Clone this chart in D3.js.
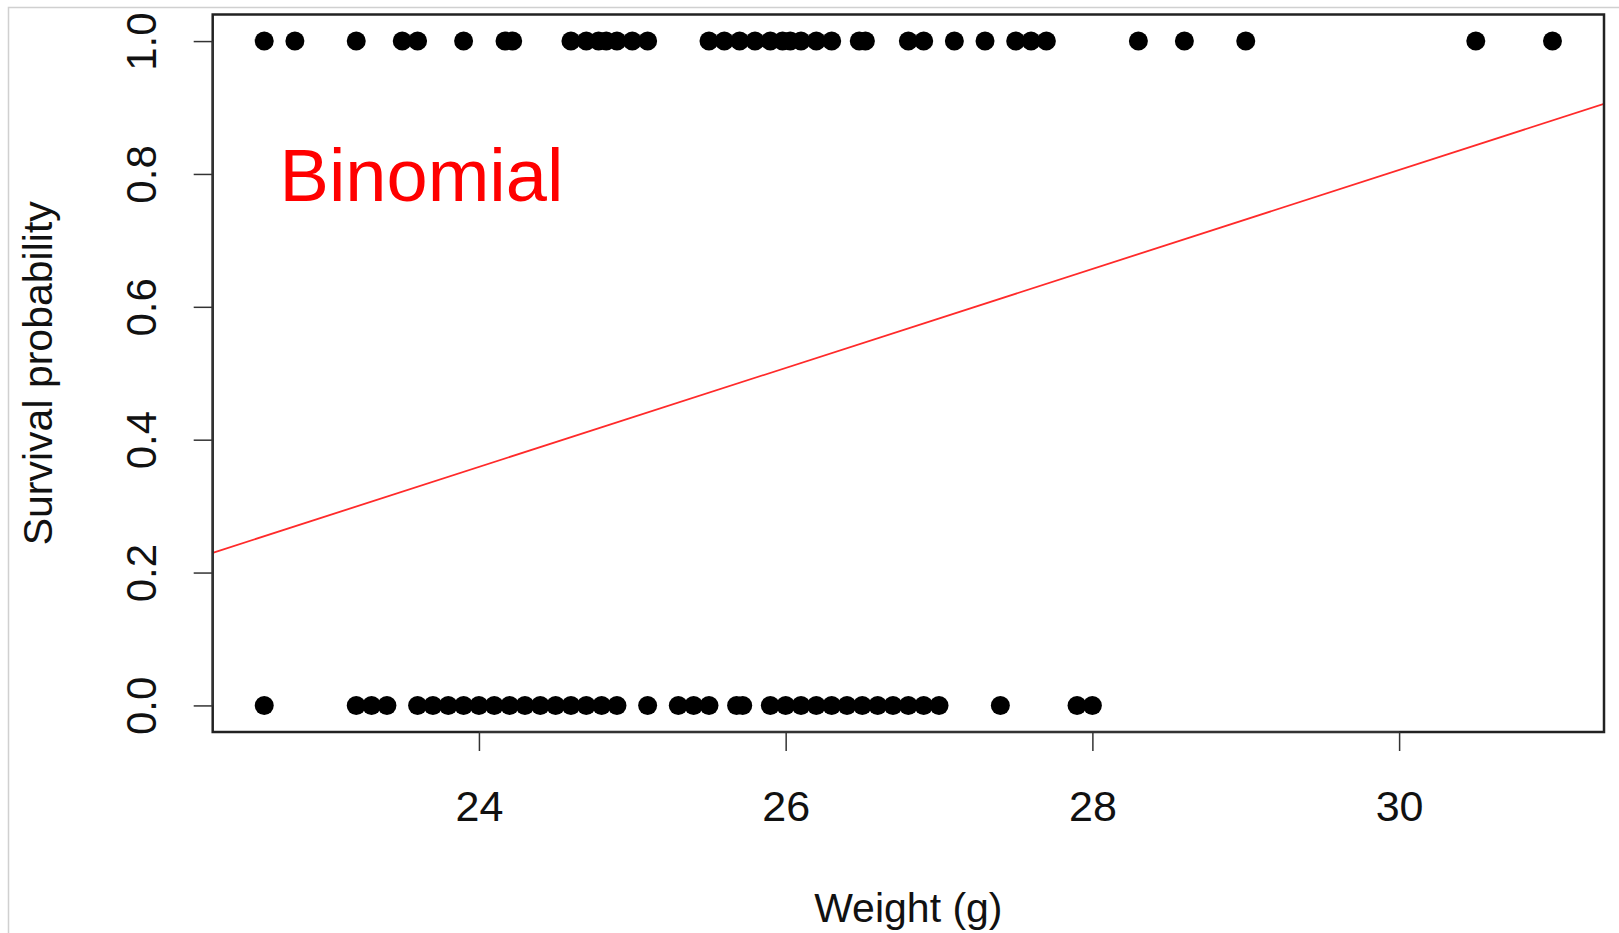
<!DOCTYPE html>
<html>
<head>
<meta charset="utf-8">
<script src="https://cdn.jsdelivr.net/npm/d3@7"></script>
<style>
    body { margin: 0; background: white; }
    text { font-family: "Liberation Sans", Arial, Helvetica, sans-serif; }
</style>
</head>
<body>
<svg id="chart"></svg>
<script>
// weights of the animals that survived (y = 1)
const survivedWeights = [
    22.6, 22.8, 23.2, 23.5, 23.6, 23.9, 24.17, 24.22, 24.6, 24.7, 24.78, 24.83, 24.9,
    25.0, 25.1, 25.5, 25.6, 25.7, 25.8, 25.9, 25.98, 26.03, 26.1, 26.2, 26.3, 26.48,
    26.52, 26.8, 26.9, 27.1, 27.3, 27.5, 27.6, 27.7, 28.3, 28.6, 29.0, 30.5, 31.0
];

// weights of the animals that died (y = 0)
const diedWeights = [
    22.6, 23.2, 23.3, 23.4, 23.6, 23.7, 23.8, 23.9, 24.0, 24.1, 24.2, 24.3, 24.4,
    24.5, 24.6, 24.7, 24.8, 24.9, 25.1, 25.3, 25.4, 25.5, 25.68, 25.72, 25.9, 26.0,
    26.1, 26.2, 26.3, 26.4, 26.5, 26.6, 26.7, 26.8, 26.9, 27.0, 27.4, 27.9, 28.0
];

// fitted line: probability = intercept + slope * weight
const fitIntercept = -1.429;
const fitSlope = 0.0745;

// tick labels
const xTicks = [24, 26, 28, 30];
const yTicks = [0.0, 0.2, 0.4, 0.6, 0.8, 1.0];

// annotation
const label = { text: "Binomial", x: 22.70, y: 0.759 };

const width = 1619, height = 933;
const box = { left: 212.7, right: 1604, top: 14.5, bottom: 732 };

let svg = d3.select("#chart")
    .attr("width", width)
    .attr("height", height);

// points as {x, y}
let points = survivedWeights.map(w => ({ x: w, y: 1 }))
    .concat(diedWeights.map(w => ({ x: w, y: 0 })));

// R style axis ranges, padded by 4%
let xExt = d3.extent(points, d => d.x);
let xPad = (xExt[1] - xExt[0]) * 0.04;
let x = d3.scaleLinear()
    .domain([xExt[0] - xPad, xExt[1] + xPad])
    .range([box.left, box.right]);

let y = d3.scaleLinear()
    .domain([-0.04, 1.04])
    .range([box.bottom, box.top]);

// faint frame around the picture
svg.append("path")
    .attr("d", "M8.5," + height + "V7.5H" + width)
    .attr("fill", "none")
    .attr("stroke", "#d0d0d0")
    .attr("stroke-width", 1.5);

// clip the fitted line to the plot box
svg.append("clipPath").attr("id", "plotClip")
    .append("rect")
    .attr("x", box.left).attr("y", box.top)
    .attr("width", box.right - box.left)
    .attr("height", box.bottom - box.top);

// fitted line
let line = d3.line()
    .x(d => x(d))
    .y(d => y(fitIntercept + fitSlope * d));

svg.append("path")
    .datum(x.domain())
    .attr("d", line)
    .attr("clip-path", "url(#plotClip)")
    .attr("fill", "none")
    .attr("stroke", "#ff2a2a")
    .attr("stroke-width", 1.8);

// the data points
svg.append("g")
    .selectAll("circle")
    .data(points)
    .enter()
    .append("circle")
    .attr("cx", d => x(d.x))
    .attr("cy", d => y(d.y))
    .attr("r", 9.5)
    .attr("fill", "black");

// plot box
svg.append("rect")
    .attr("x", box.left).attr("y", box.top)
    .attr("width", box.right - box.left)
    .attr("height", box.bottom - box.top)
    .attr("fill", "none")
    .attr("stroke", "#222")
    .attr("stroke-width", 2.5);

// x axis
let xAxis = d3.axisBottom(x)
    .tickValues(xTicks)
    .tickFormat(d3.format("d"))
    .tickSize(19)
    .tickPadding(39);

let gx = svg.append("g")
    .attr("transform", "translate(0," + box.bottom + ")")
    .call(xAxis);
gx.select(".domain")
    .attr("d", "M" + x(xTicks[0]) + ",0H" + x(xTicks[xTicks.length - 1]))
    .attr("stroke", "#333")
    .attr("stroke-width", 2);
gx.selectAll(".tick line").attr("stroke", "#333").attr("stroke-width", 1.5);
gx.selectAll(".tick text")
    .style("font-size", "43px")
    .attr("fill", "#111");

// y axis, labels rotated like R
let yAxis = d3.axisLeft(y)
    .tickValues(yTicks)
    .tickFormat(d3.format(".1f"))
    .tickSize(19);

let gy = svg.append("g")
    .attr("transform", "translate(" + box.left + ",0)")
    .call(yAxis);
gy.select(".domain")
    .attr("d", "M0," + y(yTicks[0]) + "V" + y(yTicks[yTicks.length - 1]))
    .attr("stroke", "#333")
    .attr("stroke-width", 2);
gy.selectAll(".tick line").attr("stroke", "#333").attr("stroke-width", 1.5);
gy.selectAll(".tick text")
    .attr("x", null).attr("dy", null)
    .attr("text-anchor", "middle")
    .attr("transform", "translate(-57,0) rotate(-90)")
    .style("font-size", "42px")
    .attr("fill", "#111");

// axis titles
svg.append("text")
    .attr("x", (box.left + box.right) / 2)
    .attr("y", 922)
    .attr("text-anchor", "middle")
    .style("font-size", "41px")
    .attr("fill", "#111")
    .text("Weight (g)");

svg.append("text")
    .attr("transform", "translate(52," + (box.top + box.bottom) / 2 + ") rotate(-90)")
    .attr("text-anchor", "middle")
    .style("font-size", "41px")
    .attr("fill", "#111")
    .text("Survival probability");

// annotation in red
svg.append("text")
    .attr("x", x(label.x))
    .attr("y", y(label.y))
    .style("font-size", "74px")
    .attr("fill", "#ff0000")
    .text(label.text);
</script>
</body>
</html>
